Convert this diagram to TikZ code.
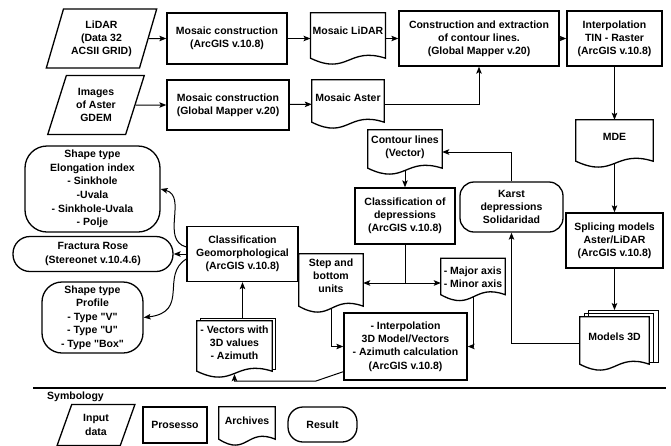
\documentclass[tikz,border=0pt]{standalone}
\usepackage{fontspec}
\setmainfont{Liberation Sans}
\usetikzlibrary{shapes.geometric,calc,arrows.meta}

\begin{document}
\begin{tikzpicture}[
    x=1pt, y=-1pt,
    >={Stealth[length=7pt,width=5.5pt,inset=1.5pt]},
    every node/.style={font=\fontsize{10.5}{13.2}\selectfont\bfseries, align=center, inner sep=2pt},
    process/.style={rectangle, draw, line width=1.3pt},
    input/.style={trapezium, trapezium left angle=70, trapezium right angle=110,
        trapezium stretches=true, draw, line width=1.3pt},
    result/.style={rectangle, rounded corners=#1, draw, line width=1.3pt},
    result/.default=16pt,
    archive/.style={text depth=#1, append after command={\pgfextra{
        \draw[line width=1.3pt] (\tikzlastnode.north west) -- (\tikzlastnode.north east)
        -- ($(\tikzlastnode.south east)+(0,6pt)$)
        .. controls ($(\tikzlastnode.south)+(0,18pt)$) and ($(\tikzlastnode.south)+(0,-12pt)$)
        .. ($(\tikzlastnode.south west)+(0,6pt)$) -- cycle;}}},
    archive/.default=12pt,
    stack/.style={append after command={\pgfextra{
        \draw[line width=1.1pt] ($(\tikzlastnode.north west)+(#1,0)$)
        |- ($(\tikzlastnode.north east)+(#1,0.75*#1)$)
        -- ($(\tikzlastnode.south east)+(#1,8pt)$) -- ++(-#1,0);}}},
    link/.style={->, line width=1pt}
]
\useasboundingbox (0,0) rectangle (671,445);

% First row
\node[input, minimum width=111pt, minimum height=59pt] (lidar) at (101.5,38.5) {LiDAR\\(Data 32\\ACSII GRID)};
\node[process, minimum width=120pt, minimum height=51pt] (mos1) at (227,38.5) {Mosaic construction\\(ArcGIS v.10.8)};
\node[archive=15pt, minimum width=73pt, minimum height=51pt] (mosL) at (348,38.5) {Mosaic LiDAR};
\node[process, minimum width=160pt, minimum height=55pt] (constr) at (479,38.5) {Construction and extraction\\of contour lines.\\(Global Mapper v.20)};
\node[process, minimum width=95pt, minimum height=55pt] (tin) at (614.5,38.5) {Interpolation\\TIN - Raster\\(ArcGIS v.10.8)};

% Second row
\node[input, minimum width=97pt, minimum height=59pt] (aster) at (96,105) {Images\\of Aster\\GDEM};
\node[process, minimum width=122pt, minimum height=50pt] (mos2) at (228,105) {Mosaic construction\\(Global Mapper v.20)};
\node[archive=12pt, minimum width=72pt, minimum height=48pt] (mosA) at (348,104) {Mosaic Aster};

% Right column
\node[archive=14pt, minimum width=77pt, minimum height=47pt] (mde) at (614.5,143.5) {MDE};
\node[process, minimum width=97pt, minimum height=55pt] (splice) at (614.5,240.5) {Splicing models\\Aster/LiDAR\\(ArcGIS v.10.8)};
\node[archive=14pt, stack=9pt, stack=4.5pt, minimum width=69pt, minimum height=53pt] (models) at (614.5,343.5) {Models 3D};

% Middle
\node[result=14pt, minimum width=103pt, minimum height=50pt] (karst) at (511.5,207) {Karst\\depressions\\Solidaridad};
\node[archive=11pt, minimum width=74pt, minimum height=44pt] (contour) at (405,152) {Contour lines\\(Vector)};
\node[process, minimum width=100pt, minimum height=56pt] (classdep) at (405,216) {Classification of\\depressions\\(ArcGIS v.10.8)};
\node[archive=5pt, align=left, minimum width=64pt, minimum height=42pt] (major) at (473,279.5) {- Major axis\\- Minor axis};
\node[archive=15pt, minimum width=64pt, minimum height=58pt] (step) at (331,283) {Step and\\bottom\\units};
\node[process, minimum width=123pt, minimum height=67pt] (interp) at (405.5,346.5) {- Interpolation\\3D Model/Vectors\\- Azimuth calculation\\(ArcGIS v.10.8)};
\node[process, minimum width=111pt, minimum height=55pt] (geo) at (242.5,254) {Classification\\Geomorphological\\(ArcGIS v.10.8)};
\node[archive=13pt, stack=3.5pt, minimum width=75pt, minimum height=56pt] (vectors) at (234.5,349) {- Vectors with\\3D values\\- Azimuth};

% Results on the left
\node[result=22pt, minimum width=135pt, minimum height=86pt, font=\fontsize{10.5}{13.7}\selectfont\bfseries] (elong) at (92.5,189) {Shape type\\Elongation index\\- Sinkhole\\-Uvala\\- Sinkhole-Uvala\\- Polje};
\node[result=17pt, minimum width=160pt, minimum height=35pt] (fractura) at (93,254) {Fractura Rose\\(Stereonet v.10.4.6)};
\node[result=20pt, minimum width=101pt, minimum height=71pt, font=\fontsize{10.5}{13.5}\selectfont\bfseries] (profile) at (92.5,317.5) {Shape type\\Profile\\- Type \textquotedbl V\textquotedbl\\- Type \textquotedbl U\textquotedbl\\- Type \textquotedbl Box\textquotedbl};

% Connections
\draw[link] (lidar) -- (mos1);
\draw[link] (mos1) -- (mosL);
\draw[link] (mosL) -- (constr);
\draw[link] (constr) -- (tin);
\draw[link] (aster) -- (mos2);
\draw[link] (mos2) -- (mosA);
\draw[link] (mosA.east) -| (constr.south);
\draw[link] (tin) -- (mde);
\draw[link] ($(mde.south)+(0,4pt)$) -- (splice);
\draw[link] (splice) -- ($(models.north)+(0,6.75pt)$);
\draw[link] (models) -| (karst);
\draw[link] (karst) |- (contour);
\draw[link] ($(contour.south)+(0,4pt)$) -- (classdep);
\coordinate (fork) at (405,283);
\draw[line width=1pt] (classdep) -- (fork);
\draw[link] (fork) -- (step.east |- fork);
\draw[link] (fork) -- (major.west |- fork);
\draw[link] ($(step.south)+(0,4pt)$) |- (interp);
\draw[link] ($(major.south)+(0,4pt)$) |- (interp);
\coordinate (bend) at (316,381);
\draw[link] ($(interp.south west)+(0,9pt)$) -- (bend) -| ($(vectors.south)+(0,3pt)$);
\draw[link] ($(vectors.north -| geo.south)+(0,3pt)$) -- (geo);
\draw[link] ($(geo.west)+(0,7pt)$) .. controls (160,240) and (188,196) .. (elong.east);
\draw[link] (geo) -- (fractura);
\draw[link] ($(geo.west)+(0,-5pt)$) .. controls (160,275) and (190,312) .. (profile.east);

% Symbology
\draw[line width=2pt] (33,388) -- (666,388);
\node[anchor=west] (symbology) at (45,397) {Symbology};
\node[input, minimum width=78pt, minimum height=41pt] (legin) at (96,425) {Input\\data};
\node[process, minimum width=64pt, minimum height=36pt] (legproc) at (175,425) {Prosesso};
\node[archive=10pt, minimum width=56pt, minimum height=38pt] (legarch) at (247,426) {Archives};
\node[result=15pt, minimum width=69pt, minimum height=35pt] (legres) at (322.5,424.5) {Result};
\end{tikzpicture}
\end{document}
